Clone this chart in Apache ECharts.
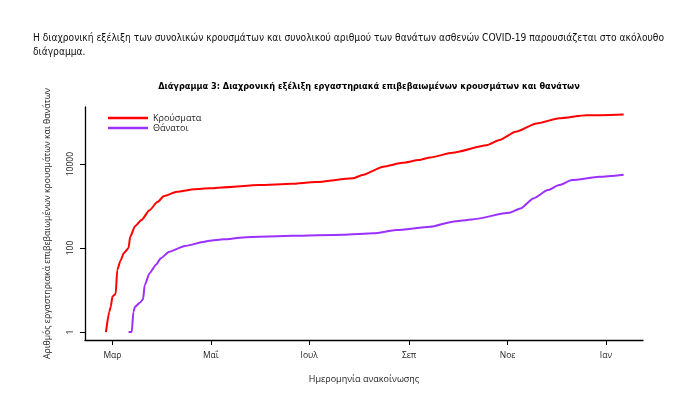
<!DOCTYPE html>
<html>
<head>
<meta charset="utf-8">
<script src="https://cdn.jsdelivr.net/npm/echarts@6/dist/echarts.min.js"></script>
<style>html,body{margin:0;padding:0;background:#fff}#c{width:699px;height:399px}</style>
</head>
<body>
<div id="c"></div>
<script>
const caseDates = ['2020-02-26','2020-02-28','2020-02-29','2020-03-01','2020-03-03','2020-03-04','2020-03-06','2020-03-08','2020-03-11','2020-03-12','2020-03-15','2020-03-19','2020-03-24','2020-03-29','2020-04-02','2020-04-10','2020-04-21','2020-04-30','2020-05-08','2020-05-31','2020-06-20','2020-07-05','2020-07-28','2020-08-03','2020-08-16','2020-08-28','2020-09-07','2020-09-14','2020-09-28','2020-10-19','2020-10-27','2020-11-06','2020-11-19','2020-12-03','2020-12-20','2021-01-12'];
const caseValues = [1,3,4,7,8,30,50,75,100,185,330,465,800,1260,1730,2190,2530,2640,2780,3160,3400,3730,4570,5480,8650,10700,12500,14400,18600,28000,37300,58600,93000,123000,145000,152000];
const deathDates = ['2020-03-11','2020-03-13','2020-03-14','2020-03-15','2020-03-18','2020-03-20','2020-03-21','2020-03-24','2020-03-28','2020-03-31','2020-04-05','2020-04-15','2020-04-27','2020-04-30','2020-05-09','2020-05-21','2020-06-21','2020-07-22','2020-08-10','2020-08-24','2020-09-14','2020-09-28','2020-10-10','2020-11-02','2020-11-09','2020-11-17','2020-11-26','2020-12-03','2020-12-11','2020-12-28','2021-01-12'];
const deathValues = [1,1,3,4,5,6,13,25,40,57,81,112,141,149,161,179,196,208,224,268,320,424,480,690,880,1520,2400,3160,4150,5000,5600];
const monthTicks = ['2020-03-01','2020-05-01','2020-07-01','2020-09-01','2020-11-01','2021-01-01'];
const monthLabels = ['Μαρ','Μαΐ','Ιουλ','Σεπ','Νοε','Ιαν'];
const yTicks = [1,100,10000];
const seriesNames = ['Κρούσματα','Θάνατοι'];
const titleText = 'Διάγραμμα 3: Διαχρονική εξέλιξη εργαστηριακά επιβεβαιωμένων κρουσμάτων και θανάτων';
const introLine1 = 'Η διαχρονική εξέλιξη των συνολικών κρουσμάτων και συνολικού αριθμού των θανάτων ασθενών COVID-19 παρουσιάζεται στο ακόλουθο';
const introLine2 = 'διάγραμμα.';

const t = s => Date.parse(s + 'T00:00:00Z');
const cv = document.createElement('canvas').getContext('2d');
function measure(font, text) { cv.font = font; return cv.measureText(text).width; }
function hasFont(name) {
  const s = 'αβγδεζηθικλμνξοπρστυφχψω ABCxyz 0123';
  return measure('20px "' + name + '", monospace', s) !== measure('20px monospace', s);
}
const narrow = hasFont('Liberation Sans Narrow') ? '"Liberation Sans Narrow"' : (hasFont('DejaVu Sans Condensed') ? '"DejaVu Sans Condensed"' : '"Open Sans"');
function fitSize(weight, fam, text, width) {
  const w = measure(weight + ' 100px ' + fam, text);
  return 100 * width / w;
}
const titleSize = Math.min(11.5, fitSize('bold', narrow, titleText, 422));
const introSize = Math.min(11.5, fitSize('normal', narrow, introLine1, 631));

const chart = echarts.init(document.getElementById('c'));
const tickTimes = monthTicks.map(t);
const FONT = 'Open Sans';
chart.setOption({
  animation: false,
  textStyle: {fontFamily: FONT},
  title: {
    text: titleText,
    left: 364, top: 77, textAlign: 'center',
    textStyle: {fontSize: titleSize, fontWeight: 'bold', color: '#000', fontFamily: narrow.replace(/"/g, '')}
  },
  graphic: [
    {type: 'text', left: 33, top: 33, style: {text: introLine1, font: introSize.toFixed(2) + 'px ' + narrow + ', sans-serif', fill: '#111'}},
    {type: 'text', left: 33, top: 47, style: {text: introLine2, font: introSize.toFixed(2) + 'px ' + narrow + ', sans-serif', fill: '#111'}}
  ],
  legend: {
    orient: 'vertical', left: 103, top: 108, itemWidth: 40, itemHeight: 2.5, itemGap: 0,
    icon: 'rect',
    data: seriesNames,
    textStyle: {fontSize: 9, lineHeight: 10, color: '#222', fontFamily: FONT, padding: [0,0,0,0]}
  },
  grid: {left: 85, right: 56, top: 107, bottom: 59},
  xAxis: {
    type: 'value',
    min: t('2020-02-13'),
    max: t('2021-01-24'),
    name: 'Ημερομηνία ανακοίνωσης', nameLocation: 'middle', nameGap: 35,
    nameTextStyle: {fontSize: 9, color: '#222'},
    axisLine: {lineStyle: {color: '#000', width: 1.3}},
    axisTick: {customValues: tickTimes, length: 5, lineStyle: {color: '#000'}},
    axisLabel: {customValues: tickTimes, margin: 11, fontSize: 8.5, color: '#222',
      formatter: v => { const i = tickTimes.indexOf(v); return i >= 0 ? monthLabels[i] : ''; }},
    splitLine: {show: false}
  },
  yAxis: {
    type: 'log', logBase: 10,
    min: 0.645, max: 229000,
    name: 'Αριθμός εργαστηριακά επιβεβαιωμένων κρουσμάτων και θανάτων',
    nameLocation: 'middle', nameGap: 33, nameRotate: 90,
    nameTextStyle: {fontSize: 8.7, color: '#222'},
    axisLine: {show: true, lineStyle: {color: '#000', width: 1.3}},
    axisTick: {show: true, customValues: yTicks, length: 5, lineStyle: {color: '#000'}},
    axisLabel: {customValues: yTicks, rotate: 90, margin: 10, fontSize: 8.5, color: '#222',
      formatter: v => String(Math.round(v))},
    splitLine: {show: false}
  },
  series: [
    {name: seriesNames[0], type: 'line', symbol: 'none', smooth: 0.2, smoothMonotone: 'x',
     lineStyle: {color: '#FF0000', width: 2}, itemStyle: {color: '#FF0000'},
     data: caseDates.map((d, i) => [t(d), caseValues[i]])},
    {name: seriesNames[1], type: 'line', symbol: 'none', smooth: 0.2, smoothMonotone: 'x',
     lineStyle: {color: '#9B30FF', width: 2}, itemStyle: {color: '#9B30FF'},
     data: deathDates.map((d, i) => [t(d), deathValues[i]])}
  ]
});
</script>
</body>
</html>
